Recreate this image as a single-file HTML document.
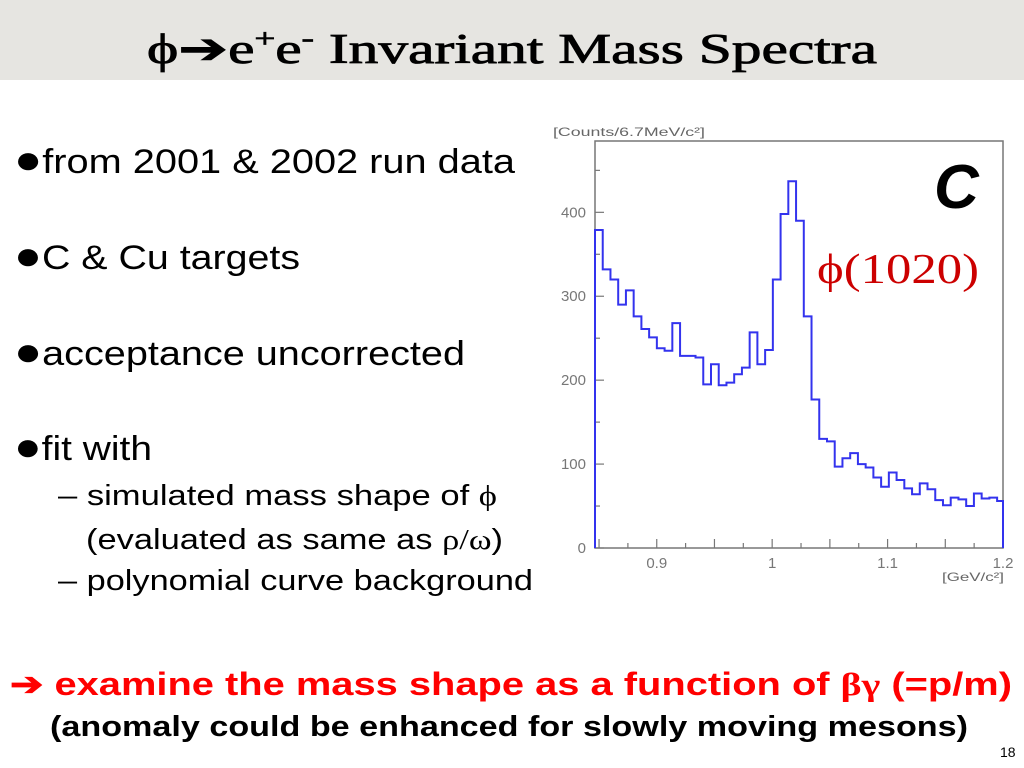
<!DOCTYPE html>
<html><head><meta charset="utf-8"><style>
html,body{margin:0;padding:0;background:#fff;}
svg{display:block;}
text{font-family:"Liberation Sans",sans-serif;}
.serif{font-family:"Liberation Serif",serif;}
</style></head><body>
<svg id="slide" width="1024" height="768" viewBox="0 0 1024 768">
<rect x="0" y="0" width="1024" height="80" fill="#e6e5e1"/>
<text x="512" y="63" text-anchor="middle" class="serif" font-size="42" stroke="#000" stroke-width="0.8" textLength="730" lengthAdjust="spacingAndGlyphs">ϕ➔e<tspan font-size="26" dy="-16">+</tspan><tspan dy="16">e</tspan><tspan font-size="26" dy="-16">-</tspan><tspan dy="16"> Invariant Mass Spectra</tspan></text>

<g>
<text x="14" y="173" font-size="34" textLength="501" lengthAdjust="spacingAndGlyphs"><tspan font-size="40">●</tspan>from 2001 &amp; 2002 run data</text>
<text x="14" y="269" font-size="34" textLength="286" lengthAdjust="spacingAndGlyphs"><tspan font-size="40">●</tspan>C &amp; Cu targets</text>
<text x="14" y="365" font-size="34" textLength="451" lengthAdjust="spacingAndGlyphs"><tspan font-size="40">●</tspan>acceptance uncorrected</text>
<text x="14" y="460" font-size="34" textLength="138" lengthAdjust="spacingAndGlyphs"><tspan font-size="40">●</tspan>fit with</text>
<text x="58" y="505" font-size="29" textLength="439" lengthAdjust="spacingAndGlyphs">– simulated mass shape of <tspan class="serif">ϕ</tspan></text>
<text x="86" y="549" font-size="29" textLength="417" lengthAdjust="spacingAndGlyphs">(evaluated as same as <tspan class="serif">ρ/ω</tspan>)</text>
<text x="58" y="590" font-size="29" textLength="475" lengthAdjust="spacingAndGlyphs">– polynomial curve background</text>
</g>
<text x="10" y="695" font-size="32" font-weight="bold" fill="#ff0000" textLength="1002" lengthAdjust="spacingAndGlyphs">➔ examine the mass shape as a function of <tspan class="serif">βγ</tspan> (=p/m)</text>
<text x="50" y="736" font-size="29" font-weight="bold" textLength="918" lengthAdjust="spacingAndGlyphs">(anomaly could be enhanced for slowly moving mesons)</text>
<text x="1000" y="757" font-size="14">18</text>

<g id="chart"></g>
</svg>
<script>
const binStart = 0.8465;
const binWidth = 0.0067;
const counts = [379,332,320,290,307,276,261,251,238,235,268,229,229,227,195,219,194,197,207,215,257,219,236,320,398,437,390,276,177,130,127,97,107,113,100,96,84,73,90,81,71,64,77,70,57,51,60,58,50,65,59,60,56];
const yTicks = [0,100,200,300,400];
const xTicks = [0.9,1,1.1,1.2];
const xTickLabels = ["0.9","1","1.1","1.2"];

const X0=595, X1=1003, Y0=548, Y1=141;
const xMin=0.8465, xMax=1.2, yMax=485;
function sx(v){return X0+(v-xMin)/(xMax-xMin)*(X1-X0);}
function sy(v){return Y0-v/yMax*(Y0-Y1);}
const NS="http://www.w3.org/2000/svg";
const g=document.getElementById('chart');
function mk(tag,attrs){const e=document.createElementNS(NS,tag);for(const k in attrs)e.setAttribute(k,attrs[k]);g.appendChild(e);return e;}

const frame=mk('rect',{x:X0,y:Y1,width:X1-X0,height:Y0-Y1,fill:'none',stroke:'#777','stroke-width':1.5});



for(let v=0; v<=450; v+=50){
  const major = v%100===0;
  const t=mk('line',{x1:X0,x2:X0+(major?9:5),y1:sy(v),y2:sy(v),stroke:'#777','stroke-width':1.2});
  
  
}
yTicks.forEach(v=>{
  const t=mk('text',{x:586,y:sy(v)+5,'text-anchor':'end','font-size':15,fill:'#777'});
  t.textContent=String(v);
  
  
});
for(let i=0;i<=14;i++){
  const v=0.85+i*0.025;
  const t=mk('line',{x1:sx(v),x2:sx(v),y1:Y0,y2:Y0-(i%2===0?9:5),stroke:'#777','stroke-width':1.2});
  
  
}
xTicks.forEach((v,i)=>{
  const t=mk('text',{x:sx(v),y:568,'text-anchor':'middle','font-size':15,fill:'#777'});
  t.textContent=xTickLabels[i];
  
  
});
let d='M'+sx(binStart)+','+sy(0);
counts.forEach((c,i)=>{
  const a=sx(binStart+i*binWidth), b=Math.min(sx(binStart+(i+1)*binWidth),X1);
  d+=' L'+a+','+sy(c)+' L'+b+','+sy(c);
});
d+=' L'+X1+','+sy(counts[counts.length-1])+' L'+X1+','+sy(0);
const h=mk('path',{d:d,fill:'none',stroke:'#3333ee','stroke-width':2});



const yl=mk('text',{x:553,y:136,'font-size':12,fill:'#666',textLength:152,lengthAdjust:'spacingAndGlyphs'});
yl.textContent='[Counts/6.7MeV/c²]';


const xl=mk('text',{x:942,y:581,'font-size':12,fill:'#666',textLength:62,lengthAdjust:'spacingAndGlyphs'});
xl.textContent='[GeV/c²]';


const cl=mk('text',{x:934,y:208,'font-size':62,'font-weight':'bold','font-style':'italic',fill:'#000'});
cl.textContent='C';


const pl=mk('text',{x:817,y:283,'font-size':42,fill:'#cc0000','class':'serif',textLength:162,lengthAdjust:'spacingAndGlyphs'});
pl.textContent='ϕ(1020)';


</script>
</body></html>
